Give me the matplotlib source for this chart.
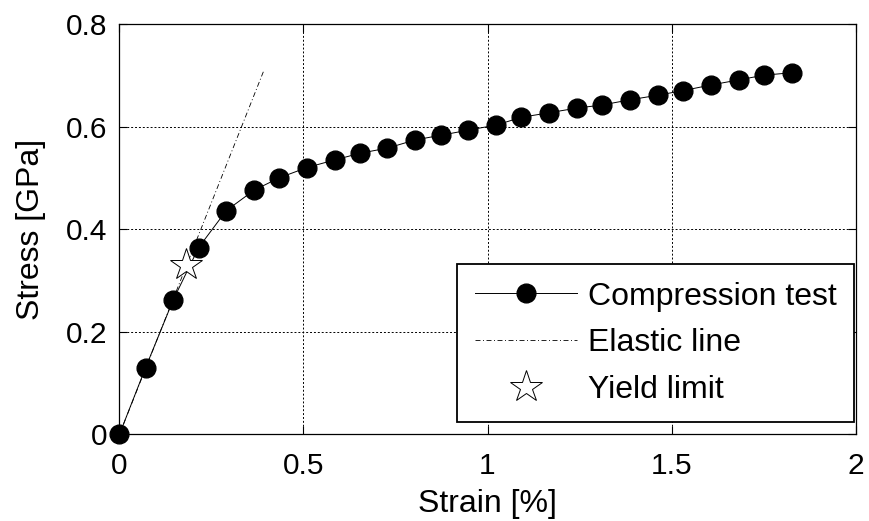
import matplotlib
matplotlib.use("Agg")
import matplotlib.pyplot as plt

plt.rcParams['font.family'] = ['Liberation Sans', 'DejaVu Sans']

# Compression test measurements
strain = [0.0, 0.071, 0.146, 0.215, 0.290, 0.366, 0.434, 0.509, 0.585, 0.654,
          0.728, 0.804, 0.873, 0.948, 1.024, 1.092, 1.168, 1.243, 1.311, 1.386,
          1.462, 1.531, 1.607, 1.683, 1.750, 1.827]
stress = [0.0, 0.130, 0.262, 0.364, 0.436, 0.476, 0.500, 0.520, 0.535, 0.548,
          0.558, 0.574, 0.583, 0.593, 0.603, 0.618, 0.627, 0.636, 0.642, 0.652,
          0.661, 0.670, 0.681, 0.691, 0.700, 0.705]

# Linear elastic line
elastic_strain = [0.0, 0.391]
elastic_stress = [0.0, 0.707]

# Yield point
yield_strain = [0.181]
yield_stress = [0.331]

x_ticks = [0, 0.5, 1, 1.5, 2]
x_ticklabels = ['0', '0.5', '1', '1.5', '2']
y_ticks = [0, 0.2, 0.4, 0.6, 0.8]
y_ticklabels = ['0', '0.2', '0.4', '0.6', '0.8']

fig = plt.figure(figsize=(8.69, 5.21), dpi=100)
ax = fig.add_axes([0.1375, 0.1664, 0.847, 0.7876])

ax.plot(strain, stress, '-', color='black', lw=0.7, marker='o', ms=13.5,
        mfc='black', mec='black', label='Compression test', zorder=3,
        clip_on=False)
ax.plot(elastic_strain, elastic_stress, color='black', lw=0.6,
        linestyle=(0, (6, 3, 1.2, 3)), label='Elastic line', zorder=2)
ax.plot(yield_strain, yield_stress, linestyle='none', marker='*', ms=24,
        mfc='white', mec='black', mew=0.7, label='Yield limit', zorder=4)

ax.set_xlim(0, 2)
ax.set_ylim(0, 0.8)
ax.set_xticks(x_ticks)
ax.set_xticklabels(x_ticklabels)
ax.set_yticks(y_ticks)
ax.set_yticklabels(y_ticklabels)

ax.grid(True, color='black', lw=0.7, linestyle=(0, (2, 2)))
ax.set_axisbelow(True)
ax.tick_params(direction='in', length=6, width=0.8, labelsize=21.5,
               top=True, right=True, pad=9)
ax.tick_params(axis='x', pad=13)
for s in ax.spines.values():
    s.set_linewidth(0.9)
    s.set_zorder(5)

ax.set_xlabel('Strain [%]', fontsize=23, labelpad=6)
ax.set_ylabel('Stress [GPa]', fontsize=23, labelpad=14)

leg = ax.legend(loc='lower right', bbox_to_anchor=(0.998, 0.029), fontsize=23,
                frameon=True, fancybox=False, framealpha=1, edgecolor='black',
                handlelength=3.2, handletextpad=0.34, labelspacing=0.52,
                borderpad=0.55, borderaxespad=0)
leg.get_frame().set_linewidth(1.3)

fig.savefig('out.png', dpi=100)
